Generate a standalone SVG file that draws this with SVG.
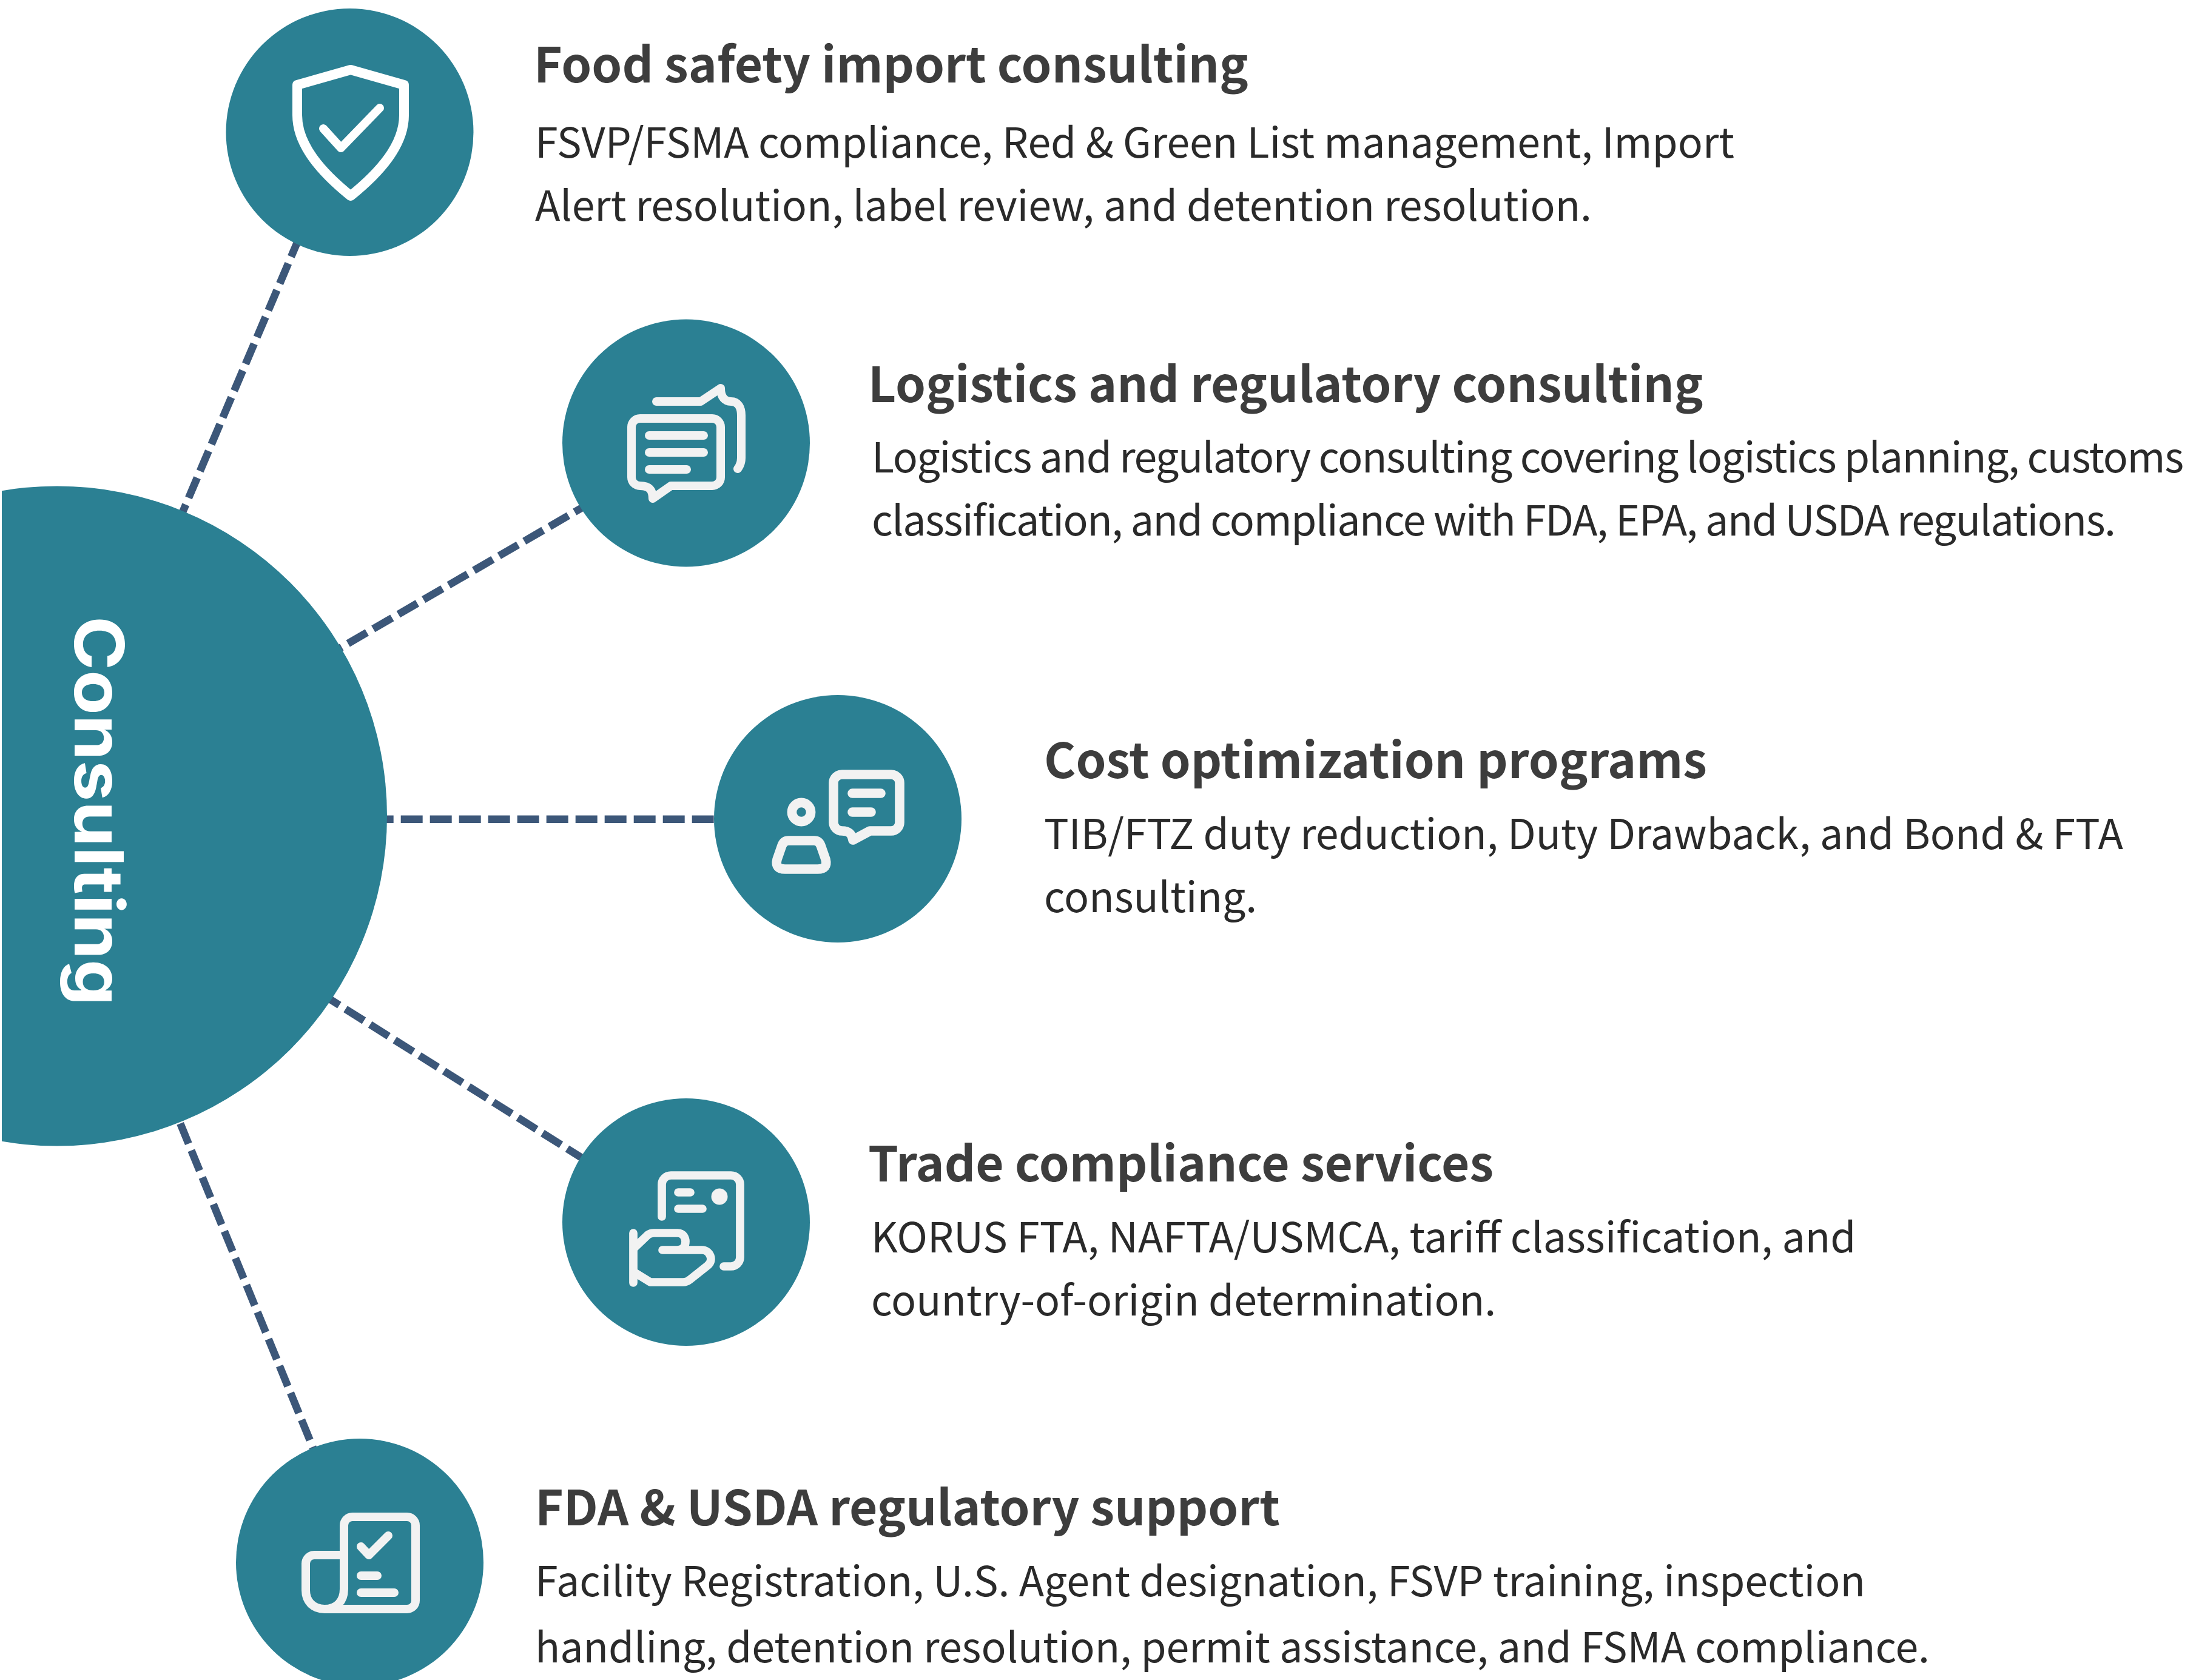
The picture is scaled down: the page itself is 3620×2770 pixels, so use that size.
<svg xmlns="http://www.w3.org/2000/svg" width="3620" height="2770" viewBox="0 0 3620 2770">
<defs><style>
.c{fill:#2b8093}
.i{fill:none;stroke:#f2f2f2;stroke-linecap:round;stroke-linejoin:round}
.t{font-family:"Noto Sans CJK SC","Noto Sans",sans-serif;font-weight:700;font-size:80px;fill:#3d3d3d}
.b{font-family:"Noto Sans CJK SC","Noto Sans",sans-serif;font-weight:400;font-size:68px;fill:#2a2a2a}
.k{fill:none;stroke:#3c5779;stroke-width:12.500;stroke-dasharray:36 12}
</style>
<clipPath id="hub"><rect x="3" y="0" width="700" height="2770"/></clipPath></defs>
<rect width="3620" height="2770" fill="#fff"/>
<g id="connectors">
<path class="k" d="M512.800 346L287.600 875.900"/>
<path class="k" d="M532.200 1085.100L988.900 820"/>
<path class="k" d="M612.700 1350.700H1200"/>
<path class="k" d="M488.300 1612.500L975.600 1919.500"/>
<path class="k" d="M279 1808L533.700 2430.400"/>
</g>
<g id="hub-node">
<circle class="c" cx="94" cy="1345.500" r="544" clip-path="url(#hub)"/>
<text transform="translate(123 1016) rotate(90)" font-family="Inter,sans-serif" font-weight="700" font-size="112" fill="#fff" textLength="642" lengthAdjust="spacingAndGlyphs">Consulting</text>
</g>
<g id="node-food-safety">
<circle class="c" cx="576.500" cy="218" r="204"/>
<path class="i" stroke-width="16" style="stroke:#fff" d="M578 115L666 140V190C666 240 625 285 578 323C531 285 490 240 490 190V140Z"/>
<path class="i" stroke-width="14" style="stroke:#fff" d="M533 212L562 244L626 178"/>
<text class="t" x="880" y="136">Food safety import consulting</text>
<text class="b" x="882" y="260">FSVP/FSMA compliance, Red &amp; Green List management, Import</text>
<text class="b" x="882" y="364">Alert resolution, label review, and detention resolution.</text>
</g>
<g id="node-logistics">
<circle class="c" cx="1131" cy="730.500" r="204"/>
<path class="i" stroke-width="14" d="M1055 690H1174a14 14 0 0 1 14 14V787a14 14 0 0 1-14 14H1106L1076 822C1076 808 1070 801 1055 801a14 14 0 0 1-14-14V704a14 14 0 0 1 14-14Z"/>
<path class="i" stroke-width="14" d="M1070 718H1160M1070 746H1160M1070 774H1132M1082 662H1155L1188 640C1188 655 1195 662 1205 662C1217 662 1222 672 1222 685V755Q1222 765 1216 773"/>
<text class="t" x="1431" y="663">Logistics and regulatory consulting</text>
<text class="b" x="1437" y="779" textLength="2163">Logistics and regulatory consulting covering logistics planning, customs</text>
<text class="b" x="1437" y="883" textLength="2051">classification, and compliance with FDA, EPA, and USDA regulations.</text>
</g>
<g id="node-cost">
<circle class="c" cx="1381" cy="1350" r="204"/>
<path class="i" stroke-width="15.600" d="M1388 1277H1469a14 14 0 0 1 14 14V1356a14 14 0 0 1-14 14H1434L1406 1385C1404 1375 1400 1370 1388 1370a14 14 0 0 1-14-14V1291a14 14 0 0 1 14-14Z"/>
<path class="i" stroke-width="15.600" d="M1405 1308H1452M1405 1339H1436"/>
<circle class="i" stroke-width="15.600" cx="1321" cy="1339" r="15.600"/>
<path class="i" stroke-width="15.600" d="M1300 1386H1342Q1350 1386 1353 1394L1361 1417Q1365 1433 1348 1433H1294Q1277 1433 1281 1417L1289 1394Q1292 1386 1300 1386Z"/>
<text class="t" x="1721" y="1283">Cost optimization programs</text>
<text class="b" x="1721" y="1400">TIB/FTZ duty reduction, Duty Drawback, and Bond &amp; FTA</text>
<text class="b" x="1721" y="1504">consulting.</text>
</g>
<g id="node-trade">
<circle class="c" cx="1131" cy="2015" r="204"/>
<path class="i" stroke-width="13.700" d="M1091 2006V1953a15 15 0 0 1 15-15H1205a15 15 0 0 1 15 15V2073a15 15 0 0 1-15 15H1193M1118 1966H1138M1118 1993H1158M1044 2033V2115"/>
<circle cx="1186" cy="1973" r="13.500" fill="#f2f2f2"/>
<path class="i" stroke-width="13.700" d="M1046 2057L1068 2036Q1072 2033 1078 2033H1117C1127 2033 1130 2042 1130 2047C1130 2055 1126 2061 1116 2061H1092M1116 2061H1157C1170 2061 1178 2078 1166 2087L1137 2110Q1132 2114 1126 2114H1072L1046 2098"/>
<text class="t" x="1431" y="1948">Trade compliance services</text>
<text class="b" x="1436" y="2065">KORUS FTA, NAFTA/USMCA, tariff classification, and</text>
<text class="b" x="1436" y="2169">country-of-origin determination.</text>
</g>
<g id="node-fda">
<circle class="c" cx="593" cy="2576" r="204"/>
<path class="i" stroke-width="14" d="M567 2620V2515a14 14 0 0 1 14-14H671a14 14 0 0 1 14 14V2639a14 14 0 0 1-14 14H535C516 2653 504 2640 504 2622V2578a14 14 0 0 1 14-14H567M567 2620C567 2640 555 2653 535 2653M595 2550L608 2564L640 2532M595 2598H622M595 2626H650"/>
<text class="t" x="882" y="2515">FDA &amp; USDA regulatory support</text>
<text class="b" x="882" y="2632">Facility Registration, U.S. Agent designation, FSVP training, inspection</text>
<text class="b" x="882" y="2741">handling, detention resolution, permit assistance, and FSMA compliance.</text>
</g>
</svg>
